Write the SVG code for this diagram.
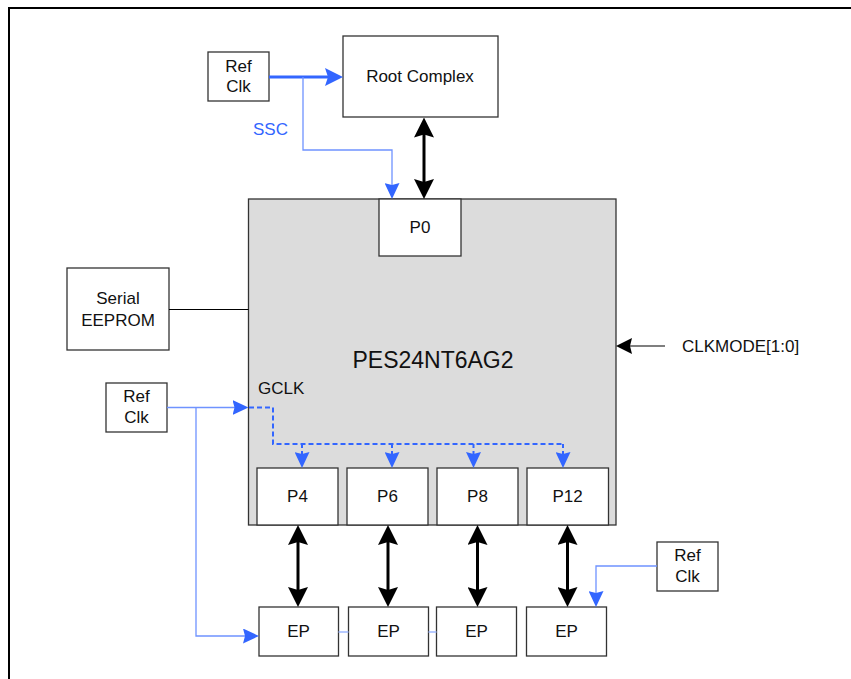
<svg xmlns="http://www.w3.org/2000/svg" width="851" height="679" viewBox="0 0 851 679">
<style>
text{font-family:"Liberation Sans",Arial,sans-serif;font-size:17px;fill:#111}
.c{text-anchor:middle}
.box{fill:#fff;stroke:#333;stroke-width:1.3}
.blk{stroke:#000;stroke-width:3;fill:none}
.bl{stroke:#3366ff;fill:none}
.thin{stroke:#6f93ff;stroke-width:1.3;fill:none}
.pale{stroke:#9fb8ff;stroke-width:1.5;fill:none}
</style>
<defs>
<marker id="ab" viewBox="0 0 20 20" refX="10" refY="10" markerWidth="20" markerHeight="20" markerUnits="userSpaceOnUse" orient="auto-start-reverse"><path d="M0,0 L20,10 L0,20 L3,10 z" fill="#000"/></marker>
<marker id="bb" viewBox="0 0 18 18" refX="9" refY="9" markerWidth="18" markerHeight="18" markerUnits="userSpaceOnUse" orient="auto"><path d="M0,0 L18,9 L0,18 L3,9 z" fill="#3366ff"/></marker>
<marker id="bs" viewBox="0 0 16 15" refX="8" refY="7.5" markerWidth="16" markerHeight="15" markerUnits="userSpaceOnUse" orient="auto"><path d="M0,0 L16,7.5 L0,15 L2,7.5 z" fill="#3366ff"/></marker>
<marker id="bk" viewBox="0 0 16 16" refX="8" refY="8" markerWidth="16" markerHeight="16" markerUnits="userSpaceOnUse" orient="auto"><path d="M0,0 L16,8 L0,16 L2,8 z" fill="#000"/></marker>
</defs>
<rect x="9" y="8" width="900" height="700" fill="none" stroke="#000" stroke-width="2"/>

<g id="chip">
<rect x="248.5" y="199" width="367.5" height="326" fill="#dcdcdc" stroke="#333" stroke-width="1.3"/>
<text class="c" x="433" y="368" style="font-size:23px">PES24NT6AG2</text>
<text x="258" y="394">GCLK</text>
</g>
<g id="root"><rect class="box" x="343" y="36" width="155" height="81"/><text class="c" x="420" y="82">Root Complex</text></g>
<g id="refclk1"><rect class="box" x="208" y="52" width="61" height="49"/><text class="c" x="238.5" y="72">Ref</text><text class="c" x="238.5" y="92">Clk</text></g>
<g id="p0"><rect class="box" x="379" y="199" width="82" height="57"/><text class="c" x="420" y="233">P0</text></g>
<g id="eeprom"><rect class="box" x="67" y="268" width="102" height="82"/><text class="c" x="118" y="304">Serial</text><text class="c" x="118" y="326">EEPROM</text></g>
<g id="refclk2"><rect class="box" x="106" y="383" width="61" height="49"/><text class="c" x="136.5" y="402">Ref</text><text class="c" x="136.5" y="423">Clk</text></g>
<g id="refclk3"><rect class="box" x="657" y="542" width="61" height="49"/><text class="c" x="687.5" y="561">Ref</text><text class="c" x="687.5" y="582">Clk</text></g>
<g id="p4"><rect class="box" x="257" y="468" width="81" height="57"/><text class="c" x="297.5" y="502">P4</text></g>
<g id="p6"><rect class="box" x="347" y="468" width="81" height="57"/><text class="c" x="387.5" y="502">P6</text></g>
<g id="p8"><rect class="box" x="437" y="468" width="81" height="57"/><text class="c" x="477.5" y="502">P8</text></g>
<g id="p12"><rect class="box" x="527" y="468" width="81.5" height="57"/><text class="c" x="567.5" y="502">P12</text></g>
<g id="ep1"><rect class="box" x="259" y="607" width="79.5" height="49"/><text class="c" x="298.5" y="637">EP</text></g>
<g id="ep2"><rect class="box" x="348.5" y="607" width="80" height="49"/><text class="c" x="388.5" y="637">EP</text></g>
<g id="ep3"><rect class="box" x="436.5" y="607" width="80" height="49"/><text class="c" x="476.5" y="637">EP</text></g>
<g id="ep4"><rect class="box" x="526.5" y="607" width="80" height="49"/><text class="c" x="566.5" y="637">EP</text></g>
<g id="clkmode"><text x="682" y="352">CLKMODE[1:0]</text></g>
<g id="ssc"><text x="253" y="135" style="fill:#3366ff">SSC</text></g>

<g id="connectors">
<line class="bl" x1="269" y1="77" x2="334" y2="77" stroke-width="3" marker-end="url(#bb)"/>
<path class="thin" d="M303,77 V150 H392 V191" marker-end="url(#bs)"/>
<line class="blk" x1="424" y1="127.5" x2="424" y2="189" marker-start="url(#ab)" marker-end="url(#ab)"/>
<line x1="169" y1="309.5" x2="248.5" y2="309.5" stroke="#000" stroke-width="1.2"/>
<line x1="665" y1="346" x2="624" y2="346" stroke="#000" stroke-width="1.2" marker-end="url(#bk)"/>
<line class="thin" x1="167" y1="407.5" x2="240.5" y2="407.5" marker-end="url(#bs)"/>
<path class="thin" d="M196,407.5 V636 H251" marker-end="url(#bs)"/>
<path class="bl" stroke-width="2" stroke-dasharray="5,3" d="M249,407.5 H273 V444 H563"/>
<path class="bl" stroke-width="2" stroke-dasharray="4,3" d="M302,444 V459 M392,444 V459 M473.5,444 V459 M563,444 V459"/>
<line class="bl" stroke-width="2" x1="302" y1="458" x2="302" y2="460" marker-end="url(#bs)"/>
<line class="bl" stroke-width="2" x1="392" y1="458" x2="392" y2="460" marker-end="url(#bs)"/>
<line class="bl" stroke-width="2" x1="473.5" y1="458" x2="473.5" y2="460" marker-end="url(#bs)"/>
<line class="bl" stroke-width="2" x1="563" y1="458" x2="563" y2="460" marker-end="url(#bs)"/>
<line class="blk" x1="298" y1="535" x2="298" y2="597" marker-start="url(#ab)" marker-end="url(#ab)"/>
<line class="blk" x1="388" y1="535" x2="388" y2="597" marker-start="url(#ab)" marker-end="url(#ab)"/>
<line class="blk" x1="477.5" y1="535" x2="477.5" y2="597" marker-start="url(#ab)" marker-end="url(#ab)"/>
<line class="blk" x1="567.5" y1="535" x2="567.5" y2="597" marker-start="url(#ab)" marker-end="url(#ab)"/>
<path class="thin" d="M657,566 H596 V599" marker-end="url(#bs)"/>
<line class="pale" x1="338.5" y1="632" x2="348.5" y2="632"/>
<line class="pale" x1="428.5" y1="632" x2="436.5" y2="632"/>
</g>
</svg>
